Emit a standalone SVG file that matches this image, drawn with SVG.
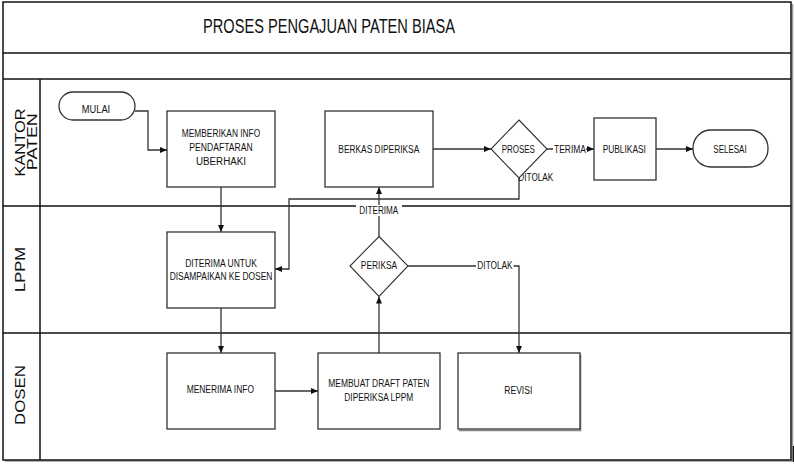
<svg xmlns="http://www.w3.org/2000/svg" width="794" height="464" viewBox="0 0 794 464">
<defs>
<marker id="arr" markerWidth="7" markerHeight="6" refX="7" refY="3" orient="auto" markerUnits="userSpaceOnUse">
<path d="M0,0 L7,3 L0,6 Z" fill="#111"/>
</marker>
<style>
.frame{fill:none;stroke:#111;stroke-width:1.5}
.lane{stroke:#111;stroke-width:1.5;fill:none}
.box{fill:#fff;stroke:#333;stroke-width:1.3}
.dia{fill:#fff;stroke:#333;stroke-width:1.1}
.conn{fill:none;stroke:#333;stroke-width:1.3}
.t{font-family:"Liberation Sans",Arial,sans-serif;font-size:10px;fill:#111;text-anchor:middle}
.ts{font-family:"Liberation Sans",Arial,sans-serif;font-size:10px;fill:#111}
.lbl{font-family:"Liberation Sans",Arial,sans-serif;font-size:15px;fill:#111;text-anchor:middle}
.title{font-family:"Liberation Sans",Arial,sans-serif;font-size:20px;fill:#111;text-anchor:middle}
</style>
</defs>
<rect x="0" y="0" width="794" height="464" fill="#fff"/>

<g id="frame">
<line x1="792.5" y1="4" x2="792.5" y2="461" stroke="#999" stroke-width="1.5"/>
<line x1="5" y1="461" x2="792" y2="461" stroke="#999" stroke-width="1.5"/>
<rect class="frame" x="3" y="2" width="788" height="458"/>
<line class="lane" x1="3" y1="53" x2="791" y2="53"/>
<line class="lane" x1="3" y1="79" x2="791" y2="79"/>
<line class="lane" x1="3" y1="206" x2="791" y2="206"/>
<line class="lane" x1="3" y1="333" x2="791" y2="333"/>
<line class="lane" x1="40" y1="79" x2="40" y2="460"/>
<line x1="793.5" y1="446" x2="793.5" y2="462" stroke="#111" stroke-width="1.5"/>
<text class="title" x="329" y="33" textLength="252" lengthAdjust="spacingAndGlyphs">PROSES PENGAJUAN PATEN BIASA</text>
</g>

<g id="lane-labels">
<text class="lbl" transform="translate(24.5,142.5) rotate(-90)" textLength="68" lengthAdjust="spacingAndGlyphs">KANTOR</text>
<text class="lbl" transform="translate(37,141.7) rotate(-90)" textLength="57" lengthAdjust="spacingAndGlyphs">PATEN</text>
<text class="lbl" transform="translate(25,269.5) rotate(-90)" textLength="45" lengthAdjust="spacingAndGlyphs">LPPM</text>
<text class="lbl" transform="translate(25,395) rotate(-90)" textLength="60" lengthAdjust="spacingAndGlyphs">DOSEN</text>
</g>

<g id="connectors">
<path class="conn" d="M135,111 H148 V150 H167" marker-end="url(#arr)"/>
<path class="conn" d="M221,187 V232" marker-end="url(#arr)"/>
<path class="conn" d="M221,308 V353" marker-end="url(#arr)"/>
<path class="conn" d="M275,391 H318" marker-end="url(#arr)"/>
<path class="conn" d="M379,353 V296.5" marker-end="url(#arr)"/>
<path class="conn" d="M519,178 V199 H289 V269 H275" marker-end="url(#arr)"/>
<path class="conn" d="M379,237 V187" marker-end="url(#arr)"/>
<path class="conn" d="M433,149 H491" marker-end="url(#arr)"/>
<path class="conn" d="M547,149 H594" marker-end="url(#arr)"/>
<path class="conn" d="M656,149 H693" marker-end="url(#arr)"/>
<path class="conn" d="M408,266 H519 V353" marker-end="url(#arr)"/>
<rect x="356" y="205" width="46" height="11" fill="#fff"/>
<text class="t" x="378.8" y="214.3" textLength="39" lengthAdjust="spacingAndGlyphs">DITERIMA</text>
<rect x="553" y="143" width="33" height="12" fill="#fff"/>
<text class="t" x="570" y="152.7" textLength="32" lengthAdjust="spacingAndGlyphs">TERIMA</text>
<rect x="476" y="260" width="37.5" height="12" fill="#fff"/>
<text class="t" x="495" y="269.3" textLength="35.3" lengthAdjust="spacingAndGlyphs">DITOLAK</text>
<text class="ts" x="518.3" y="180.7" textLength="35" lengthAdjust="spacingAndGlyphs">DITOLAK</text>
</g>

<g id="mulai">
<rect class="box" x="59" y="92" width="76" height="28" rx="14"/>
<text class="t" x="96" y="112.5" textLength="28.3" lengthAdjust="spacingAndGlyphs">MULAI</text>
</g>

<g id="memberikan-info">
<rect class="box" x="167" y="111" width="108" height="76"/>
<text class="t" x="221" y="137.3" textLength="78.3" lengthAdjust="spacingAndGlyphs">MEMBERIKAN INFO</text>
<text class="t" x="221" y="151" textLength="63.3" lengthAdjust="spacingAndGlyphs">PENDAFTARAN</text>
<text class="t" x="221" y="165" textLength="50" lengthAdjust="spacingAndGlyphs">UBERHAKI</text>
</g>

<g id="berkas-diperiksa">
<rect class="box" x="325" y="111" width="108" height="76"/>
<text class="t" x="378.8" y="152.7" textLength="81" lengthAdjust="spacingAndGlyphs">BERKAS DIPERIKSA</text>
</g>

<g id="proses">
<polygon class="dia" points="519,120 547,149 519,178 491,149"/>
<text class="t" x="518.3" y="152.7" textLength="33.3" lengthAdjust="spacingAndGlyphs">PROSES</text>
</g>

<g id="publikasi">
<rect class="box" x="594" y="118" width="62" height="62"/>
<text class="t" x="624.3" y="152.7" textLength="43.3" lengthAdjust="spacingAndGlyphs">PUBLIKASI</text>
</g>

<g id="selesai">
<rect class="box" x="693" y="130" width="75" height="37" rx="18"/>
<text class="t" x="730" y="152.7" textLength="33.3" lengthAdjust="spacingAndGlyphs">SELESAI</text>
</g>

<g id="diterima-untuk">
<rect class="box" x="167" y="232" width="108" height="76"/>
<text class="t" x="221" y="266.7" textLength="71.7" lengthAdjust="spacingAndGlyphs">DITERIMA UNTUK</text>
<text class="t" x="221" y="280" textLength="102.7" lengthAdjust="spacingAndGlyphs">DISAMPAIKAN KE DOSEN</text>
</g>

<g id="periksa">
<polygon class="dia" points="379,236.5 408,266 379,296.5 350,266"/>
<text class="t" x="379" y="269.3" textLength="36.3" lengthAdjust="spacingAndGlyphs">PERIKSA</text>
</g>

<g id="menerima-info">
<rect class="box" x="167" y="353" width="108" height="76"/>
<text class="t" x="220.3" y="393.3" textLength="67.3" lengthAdjust="spacingAndGlyphs">MENERIMA INFO</text>
</g>

<g id="membuat-draft">
<rect class="box" x="318" y="353" width="122" height="76"/>
<text class="t" x="378.8" y="387.3" textLength="101" lengthAdjust="spacingAndGlyphs">MEMBUAT DRAFT PATEN</text>
<text class="t" x="378.8" y="400.7" textLength="69" lengthAdjust="spacingAndGlyphs">DIPERIKSA LPPM</text>
</g>

<g id="revisi">
<path d="M580.5,354.5 V430.5 H459" fill="none" stroke="#888" stroke-width="1.6"/>
<rect class="box" x="458" y="353" width="122" height="76"/>
<text class="t" x="518.3" y="394" textLength="28" lengthAdjust="spacingAndGlyphs">REVISI</text>
</g>
</svg>
